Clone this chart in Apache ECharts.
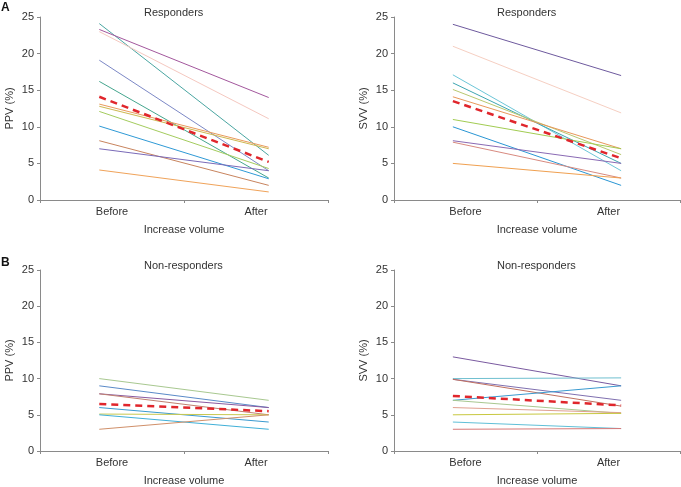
<!DOCTYPE html>
<html>
<head>
<meta charset="utf-8">
<script src="https://cdn.jsdelivr.net/npm/echarts@6/dist/echarts.min.js"></script>
<style>html,body{margin:0;padding:0;background:#fff;}#c{width:681px;height:487px;}</style>
</head>
<body>
<div id="c"></div>
<script>
// ---- Data ----
const categories = ['Before', 'After'];
const yTicks = [0, 5, 10, 15, 20, 25];
const panelTitles = ['Responders', 'Responders', 'Non-responders', 'Non-responders'];
const yNames = ['PPV (%)', 'SVV (%)', 'PPV (%)', 'SVV (%)'];
const xName = 'Increase volume';

// A: PPV responders
const ppvRespBefore = [24.1, 23.3, 23.0, 19.1, 16.2, 13.1, 12.8, 12.1, 10.1, 8.1, 7.0, 4.1];
const ppvRespAfter  = [6.1, 14.0, 11.1, 4.0, 3.0, 7.2, 7.0, 4.3, 2.9, 2.0, 4.0, 1.1];
const ppvRespMean   = [14.1, 5.2];
const ppvRespColors = ['#4aa6a2', '#a3579d', '#f5c8c0', '#7c88c6', '#45a68e', '#e99a5c', '#cdb850', '#a4cc5e', '#2f9ad6', '#c8845e', '#7a6ab8', '#f0a35a'];

// A: SVV responders
const svvRespBefore = [24.0, 21.0, 17.1, 16.0, 15.1, 14.1, 11.0, 10.0, 8.1, 7.9, 5.0];
const svvRespAfter  = [17.0, 11.9, 4.0, 5.0, 6.2, 7.0, 7.0, 2.0, 5.0, 3.0, 3.0];
const svvRespMean   = [13.5, 5.7];
const svvRespColors = ['#6e5a9e', '#f6cfc2', '#6cc6d8', '#3ea6b2', '#b8c870', '#e8985a', '#a2cc52', '#2a96d4', '#8a6ab4', '#d88a80', '#f0a050'];

// B: PPV non-responders
const ppvNonBefore = [10.0, 9.0, 7.9, 7.9, 6.0, 5.1, 5.0, 3.0];
const ppvNonAfter  = [7.0, 6.0, 6.0, 5.0, 4.0, 5.0, 3.0, 5.0];
const ppvNonMean   = [6.5, 5.5];
const ppvNonColors = ['#a8c890', '#5a8ac8', '#8a5aa0', '#c08070', '#3a9ad0', '#c8c850', '#40b0d8', '#d0906a'];

// B: SVV non-responders
const svvNonBefore = [13.0, 10.0, 9.9, 9.9, 7.0, 7.0, 6.0, 5.0, 4.0, 3.0];
const svvNonAfter  = [9.0, 10.1, 7.0, 6.2, 9.0, 5.2, 5.3, 5.2, 3.1, 3.1];
const svvNonMean   = [7.6, 6.3];
const svvNonColors = ['#7a5aa0', '#70c0d0', '#8070b0', '#c07060', '#3a9ad0', '#a8c890', '#e0a090', '#c8c840', '#60c0d8', '#d87878'];

// ---- Layout ----
const FONT = '"Liberation Sans", Arial, sans-serif';
const grids = [
  {left: 40, right: 353, top: 17, bottom: 287},
  {left: 394, right: 1, top: 17, bottom: 287},
  {left: 40, right: 353, top: 270, bottom: 34},
  {left: 394, right: 1, top: 270, bottom: 34}
];
const panels = [
  {b: ppvRespBefore, a: ppvRespAfter, m: ppvRespMean, c: ppvRespColors},
  {b: svvRespBefore, a: svvRespAfter, m: svvRespMean, c: svvRespColors},
  {b: ppvNonBefore, a: ppvNonAfter, m: ppvNonMean, c: ppvNonColors},
  {b: svvNonBefore, a: svvNonAfter, m: svvNonMean, c: svvNonColors}
];
const axisColor = '#8a8a8a';
const textColor = '#333';

const xAxis = [], yAxis = [], series = [];
grids.forEach((g, i) => {
  // visible category axis: ticks + labels
  xAxis.push({
    type: 'category', gridIndex: i, data: categories, boundaryGap: true,
    axisLine: {show: true, onZero: false, lineStyle: {color: axisColor, width: 1}},
    axisTick: {show: true, inside: false, length: 3, alignWithLabel: false, lineStyle: {color: axisColor}},
    axisLabel: {color: textColor, fontSize: 11, fontFamily: FONT, margin: 6},
    name: xName, nameLocation: 'middle', nameGap: 24,
    nameTextStyle: {color: textColor, fontSize: 11, fontFamily: FONT},
    splitLine: {show: false}
  });
  // hidden value axis for drawing the lines
  xAxis.push({
    type: 'value', gridIndex: i, min: -0.35, max: 1.35, show: false,
    axisLine: {onZero: false}
  });
  yAxis.push({
    type: 'value', gridIndex: i, min: 0, max: 25, interval: 5,
    axisLine: {show: true, onZero: false, lineStyle: {color: axisColor, width: 1}},
    axisTick: {show: true, length: 3, lineStyle: {color: axisColor}},
    axisLabel: {color: textColor, fontSize: 11, fontFamily: FONT, margin: 6},
    splitLine: {show: false},
    name: yNames[i], nameLocation: 'middle', nameGap: 25, nameRotate: 90,
    nameTextStyle: {color: textColor, fontSize: 11, fontFamily: FONT}
  });
  const p = panels[i];
  p.b.forEach((v, k) => {
    series.push({
      type: 'line', xAxisIndex: 2 * i + 1, yAxisIndex: i,
      data: [[0, v], [1, p.a[k]]],
      symbol: 'none', silent: true,
      lineStyle: {color: p.c[k], width: 1}
    });
  });
  series.push({
    type: 'line', xAxisIndex: 2 * i + 1, yAxisIndex: i,
    data: [[0, p.m[0]], [1, p.m[1]]],
    symbol: 'none', silent: true, z: 5,
    lineStyle: {color: '#e0262c', width: 2.5, type: [7, 5]}
  });
});

const titleCenters = [184, 537, 184, 537];
const titleTops = [7, 7, 260, 260];
const graphic = panelTitles.map((t, i) => ({
  type: 'text', left: titleCenters[i] - 40, top: titleTops[i],
  style: {text: t, fontSize: 11, fontFamily: FONT, fill: textColor, width: 80, align: 'center'}
}));
graphic.push({type: 'text', left: 1, top: 2, style: {text: 'A', fontSize: 12, fontWeight: 'bold', fontFamily: FONT, fill: '#111'}});
graphic.push({type: 'text', left: 1, top: 257, style: {text: 'B', fontSize: 12, fontWeight: 'bold', fontFamily: FONT, fill: '#111'}});

const chart = echarts.init(document.getElementById('c'), null, {renderer: 'canvas'});
chart.setOption({
  animation: false,
  backgroundColor: '#fff',
  grid: grids,
  xAxis: xAxis,
  yAxis: yAxis,
  series: series,
  graphic: graphic
});
</script>
</body>
</html>
